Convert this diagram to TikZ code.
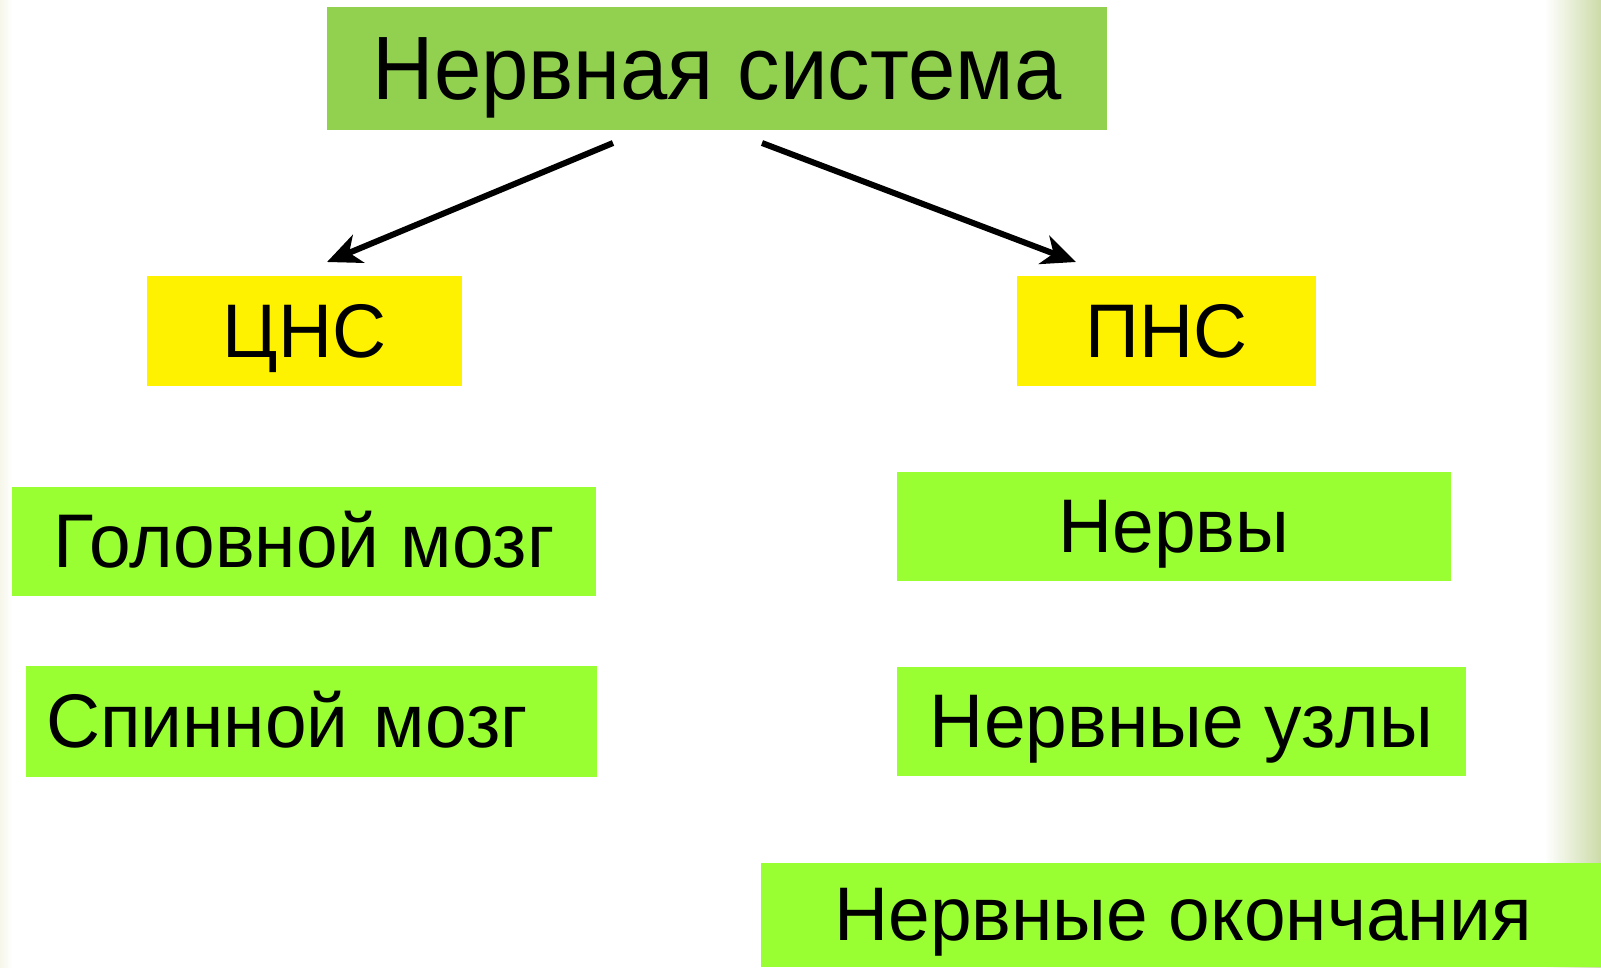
\documentclass[tikz,border=0pt]{standalone}
\usepackage{fontspec}
\setmainfont{Liberation Sans}
\newfontfamily\titlefont[FakeStretch=0.945]{Liberation Sans}
\newfontfamily\subfont[FakeStretch=0.985]{Liberation Sans}
\usetikzlibrary{arrows.meta}
\definecolor{topgreen}{RGB}{146,208,80}
\definecolor{lime}{RGB}{153,255,51}
\definecolor{edgegreen}{RGB}{204,219,168}
\definecolor{edgebeige}{RGB}{246,246,234}
\begin{document}
\begin{tikzpicture}[x=1pt,y=-1pt,
  box/.style={rectangle, inner sep=0pt, anchor=center, text=black, text depth=0pt},
  bigtext/.style={font=\titlefont\fontsize{90}{100}\selectfont, text height=62pt},
  midtext/.style={font=\subfont\fontsize{76}{88}\selectfont, text height=52pt},
  arr/.style={line width=6pt, -{Stealth[length=34pt,width=30pt,inset=10pt]}}]
\useasboundingbox (0,0) rectangle (1601,967);
\fill[white] (0,0) rectangle (1601,967);
\shade[left color=white, right color=edgegreen] (1545,0) rectangle (1601,967);
\shade[left color=edgebeige, right color=white] (0,0) rectangle (12,967);
% boxes
\node[box, bigtext, fill=topgreen, minimum width=780pt, minimum height=123pt] (ns) at (717,68) {Нервная система};
\node[box, midtext, fill=yellow, minimum width=315pt, minimum height=110pt] (cns) at (304.5,331) {ЦНС};
\node[box, midtext, fill=yellow, minimum width=299pt, minimum height=110pt] (pns) at (1166.5,331) {ПНС};
\node[box, midtext, fill=lime, minimum width=584pt, minimum height=109pt] (gm) at (304,541) {Головной мозг};
\node[box, midtext, fill=lime, text width=531pt, align=left, inner xsep=20pt, minimum height=111pt] (sm) at (311.5,721) {Спинной мозг};
\node[box, midtext, fill=lime, minimum width=554pt, minimum height=109pt] (nerv) at (1174,526) {Нервы};
\node[box, midtext, fill=lime, minimum width=569pt, minimum height=109pt] (uzl) at (1181.5,721) {Нервные узлы};
\node[box, fill=lime, minimum width=840pt, minimum height=104pt] (okon) at (1181,915) {};
\node[box, midtext] (okont) at (1183,914) {Нервные окончания};
% arrows
\coordinate (l1) at (613,143);
\coordinate (l2) at (327,262);
\coordinate (r1) at (762,143);
\coordinate (r2) at (1076,262);
\draw[arr] (l1) -- (l2);
\draw[arr] (r1) -- (r2);
\end{tikzpicture}
\end{document}
